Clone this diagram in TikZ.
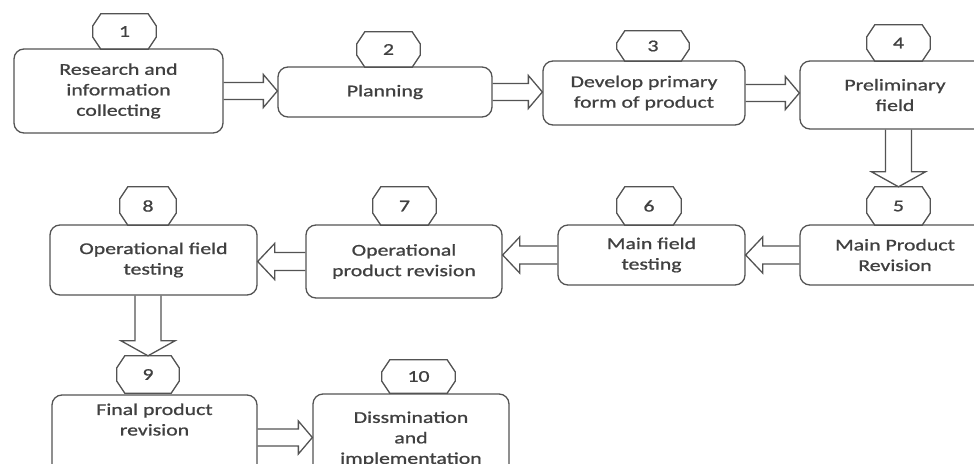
\documentclass[tikz,border=0pt]{standalone}
\usepackage{fontspec}
\setmainfont[FakeStretch=1.32,FakeBold=1]{Carlito}
\usetikzlibrary{calc}
\definecolor{ink}{HTML}{404040}
\newcommand{\octa}[1]{\foreach \n in {#1}
  \draw[line] ($(\n.north west)+(8,0)$) -- ($(\n.north east)+(-8,0)$)
    -- ($(\n.north east)+(0,12)$) -- ($(\n.south east)+(0,-12)$)
    -- ($(\n.south east)+(-8,0)$) -- ($(\n.south west)+(8,0)$)
    -- ($(\n.south west)+(0,-12)$) -- ($(\n.north west)+(0,12)$) -- cycle;}
\newcommand{\arrR}[3][]{\draw[line,#1] ($(#2.east)+(0,-8.5)$) -- ($(#3.west|-#2.east)+(-14,-8.5)$)
    -- ++(0,-8) -- (#3.west|-#2.east) -- ++(-14,16.5) -- ++(0,-8) -- ($(#2.east)+(0,8.5)$);}
\newcommand{\arrL}[3][]{\draw[line,#1] ($(#2.west)+(0,-9)$) -- ($(#3.east|-#2.west)+(17,-9)$)
    -- ++(0,-9) -- (#3.east|-#2.west) -- ++(17,18) -- ++(0,-9) -- ($(#2.west)+(0,9)$);}
\newcommand{\arrD}[3][]{\draw[line,#1] ($(#2.south-|#3.north)+(-13,0)$) -- ($(#3.north)+(-13,-15)$)
    -- ++(-14,0) -- (#3.north) -- ++(27,-15) -- ++(-14,0) -- ($(#2.south-|#3.north)+(13,0)$);}
\begin{document}
\begin{tikzpicture}[x=1pt,y=-1pt,
  line/.style={draw=ink!90,line width=1.3pt,line join=miter},
  box/.style={line,rounded corners=10pt,inner sep=2pt,align=center,text=ink,
    font=\fontsize{16.5}{20.5}\selectfont},
  num/.style={inner sep=0pt,text=ink,font=\fontsize{16.5}{20.5}\selectfont}]
  \useasboundingbox (0,0) rectangle (974,463);
  \clip (0,0) rectangle (974,463);

  % top row
  \node[box,minimum width=209pt,minimum height=84pt] (b1) at (118.5,91) {Research and\\information\\collecting};
  \node[box,minimum width=214pt,minimum height=50pt] (b2) at (385,92) {Planning};
  \node[box,minimum width=202pt,minimum height=64pt] (b3) at (644,93) {Develop primary\\form of product};
  \node[box,minimum width=190pt,minimum height=68pt] (b4) at (895,95) {Preliminary\\field};

  % middle row
  \node[box,minimum width=190pt,minimum height=60pt] (b5) at (895,255) {Main Product\\Revision};
  \node[box,minimum width=187pt,minimum height=60pt] (b6) at (651.5,255) {Main field\\testing};
  \node[box,minimum width=196pt,minimum height=73pt] (b7) at (404,261.5) {Operational\\product revision};
  \node[box,minimum width=207pt,minimum height=70pt] (b8) at (153.5,260) {Operational field\\testing};

  % bottom row
  \node[box,minimum width=205pt,minimum height=85pt,text depth=36pt] (b9) at (154.5,437.5) {Final product\\revision};
  \node[box,minimum width=196pt,minimum height=90pt] (b10) at (411,439) {Dissmination\\and\\implementation};

  % step numbers
  \node[num,minimum width=63pt,minimum height=35pt] (o1) at (124.5,31.5) {1};
  \node[num,minimum width=63pt,minimum height=35pt] (o2) at (388.5,49.5) {2};
  \node[num,minimum width=72pt,minimum height=30pt] (o3) at (653,46) {3};
  \node[num,minimum width=63pt,minimum height=36pt] (o4) at (898.5,43) {4};
  \node[num,minimum width=63pt,minimum height=38pt] (o5) at (898.5,206) {5};
  \node[num,minimum width=64pt,minimum height=38pt] (o6) at (649,206) {6};
  \node[num,minimum width=63pt,minimum height=38pt] (o7) at (404.5,206) {7};
  \node[num,minimum width=56pt,minimum height=38pt] (o8) at (148,206) {8};
  \node[num,minimum width=62pt,minimum height=37pt] (o9) at (148,374.5) {9};
  \node[num,minimum width=73pt,minimum height=33pt] (o10) at (418.5,376.5) {10};
  \octa{o1,o2,o3,o4,o5,o6,o7,o8,o9,o10}

  % block arrows
  \arrR{b1}{b2}
  \arrR{b2}{b3}
  \arrR{b3}{b4}
  \arrD{b4}{o5}
  \arrL{b5}{b6}
  \arrL{b6}{b7}
  \arrL{b7}{b8}
  \arrD{b8}{o9}
  \arrR[yshift=12pt]{b9}{b10}
\end{tikzpicture}
\end{document}
